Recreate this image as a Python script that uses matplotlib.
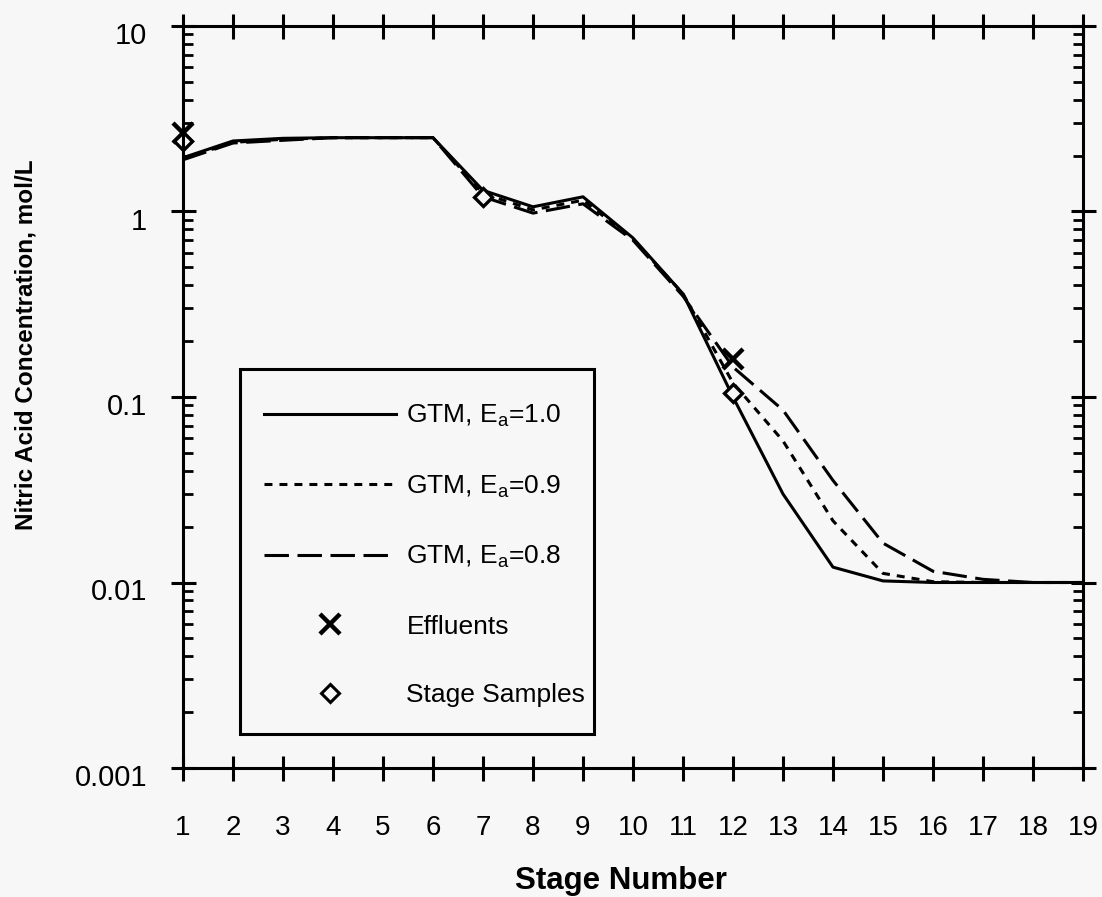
import numpy as np
import matplotlib
matplotlib.use("Agg")
import matplotlib.pyplot as plt
import matplotlib.transforms as mtransforms
from matplotlib.lines import Line2D
from matplotlib.patches import Rectangle
from matplotlib.ticker import LogLocator, NullFormatter, FixedLocator

plt.rcParams['font.family'] = ['Liberation Sans', 'DejaVu Sans']
plt.rcParams['mathtext.default'] = 'regular'

# stage numbers and simulated HNO3 profiles (mol/L)
stages = np.arange(1, 20)
gtm_10 = [1.95, 2.40, 2.48, 2.50, 2.50, 2.50, 1.30, 1.06, 1.20, 0.72, 0.36,
          0.100, 0.030, 0.0121, 0.0102, 0.0100, 0.0100, 0.0100, 0.0100]
gtm_09 = [1.92, 2.36, 2.45, 2.50, 2.50, 2.50, 1.25, 1.02, 1.15, 0.71, 0.36,
          0.119, 0.058, 0.0215, 0.0112, 0.0101, 0.0100, 0.0100, 0.0100]
gtm_08 = [1.90, 2.34, 2.42, 2.50, 2.50, 2.50, 1.20, 0.98, 1.10, 0.70, 0.35,
          0.145, 0.085, 0.0355, 0.0163, 0.0115, 0.0104, 0.0100, 0.0100]

# measured points
eff_stage = [1, 12]
eff_conc = [2.65, 0.16]
samp_stage = [1, 7, 12]
samp_conc = [2.40, 1.20, 0.105]

bg = '#f7f7f7'
W, H = 1102, 897
fig = plt.figure(figsize=(W / 100, H / 100), dpi=100, facecolor=bg)
ax = fig.add_axes([183/W, 1 - 768/H, 900/W, 742/H], facecolor=bg)

lw = 2.2
dotted = (0, (2.6, 2.3))
dashed = (0, (8, 2.8))
ax.plot(stages, gtm_10, color='black', lw=lw, ls='-')
ax.plot(stages, gtm_09, color='black', lw=lw, ls=dotted)
ax.plot(stages, gtm_08, color='black', lw=lw, ls=dashed)
ax.plot(eff_stage, eff_conc, ls='none', marker='x', ms=14, mew=3.2, color='black', clip_on=False)
ax.plot(samp_stage, samp_conc, ls='none', marker='D', ms=9, mew=2.4, mfc=bg, mec='black', clip_on=False)

ax.set_yscale('log')
ax.set_xlim(1, 19)
ax.set_ylim(0.001, 10)
ax.xaxis.set_major_locator(FixedLocator(stages))
ax.yaxis.set_major_locator(FixedLocator([0.001, 0.01, 0.1, 1, 10]))
ax.set_yticklabels(['0.001', '0.01', '0.1', '1', '10'])
ax.yaxis.set_minor_locator(LogLocator(base=10, subs=np.arange(2, 10)))
ax.yaxis.set_minor_formatter(NullFormatter())

for sp in ax.spines.values():
    sp.set_linewidth(2.2)

ax.tick_params(axis='both', which='major', direction='inout', length=18, width=2.2,
               top=True, right=True)
ax.tick_params(axis='x', which='major', pad=25, labelsize=20)
ax.tick_params(axis='y', which='major', pad=17, labelsize=21)
ax.tick_params(axis='y', which='minor', direction='in', length=7, width=2.0,
               left=True, right=True)

# nudge y tick labels down a little
off = mtransforms.ScaledTranslation(0, -7/100, fig.dpi_scale_trans)
for lab in ax.get_yticklabels():
    lab.set_transform(lab.get_transform() + off)

ax.set_xlabel('Stage Number', fontsize=22.5, fontweight='bold', labelpad=18)
ax.xaxis.label.set_x((621 - 183) / 900)
ax.set_ylabel('Nitric Acid Concentration, mol/L', fontsize=17.5, fontweight='bold', va='center')
ax.yaxis.set_label_coords(26/W, 1 - 345/H, transform=fig.transFigure)

handles = [
    Line2D([], [], color='black', lw=lw, ls='-'),
    Line2D([], [], color='black', lw=lw, ls=dotted),
    Line2D([], [], color='black', lw=lw, ls=dashed),
    Line2D([], [], color='black', ls='none', marker='x', ms=14, mew=3.2),
    Line2D([], [], color='black', ls='none', marker='D', ms=9, mew=2.2, mfc=bg),
]
labels = ['GTM, E$_{a}$=1.0', 'GTM, E$_{a}$=0.9', 'GTM, E$_{a}$=0.8',
          'Effluents', 'Stage Samples']
leg = ax.legend(handles, labels, loc='upper left',
                bbox_to_anchor=(264/W, 1 - 403/H), bbox_transform=fig.transFigure,
                borderaxespad=0, borderpad=0, fontsize=19, handlelength=5.0,
                handletextpad=0.4, labelspacing=1.68, numpoints=1, frameon=False)

# legend frame
ax.add_patch(Rectangle((240/W, 1 - 734/H), 354/W, 365/H, transform=fig.transFigure,
                       fill=False, edgecolor='black', lw=2.2, clip_on=False, zorder=6))

fig.savefig('out.png', dpi=100, facecolor=bg)
